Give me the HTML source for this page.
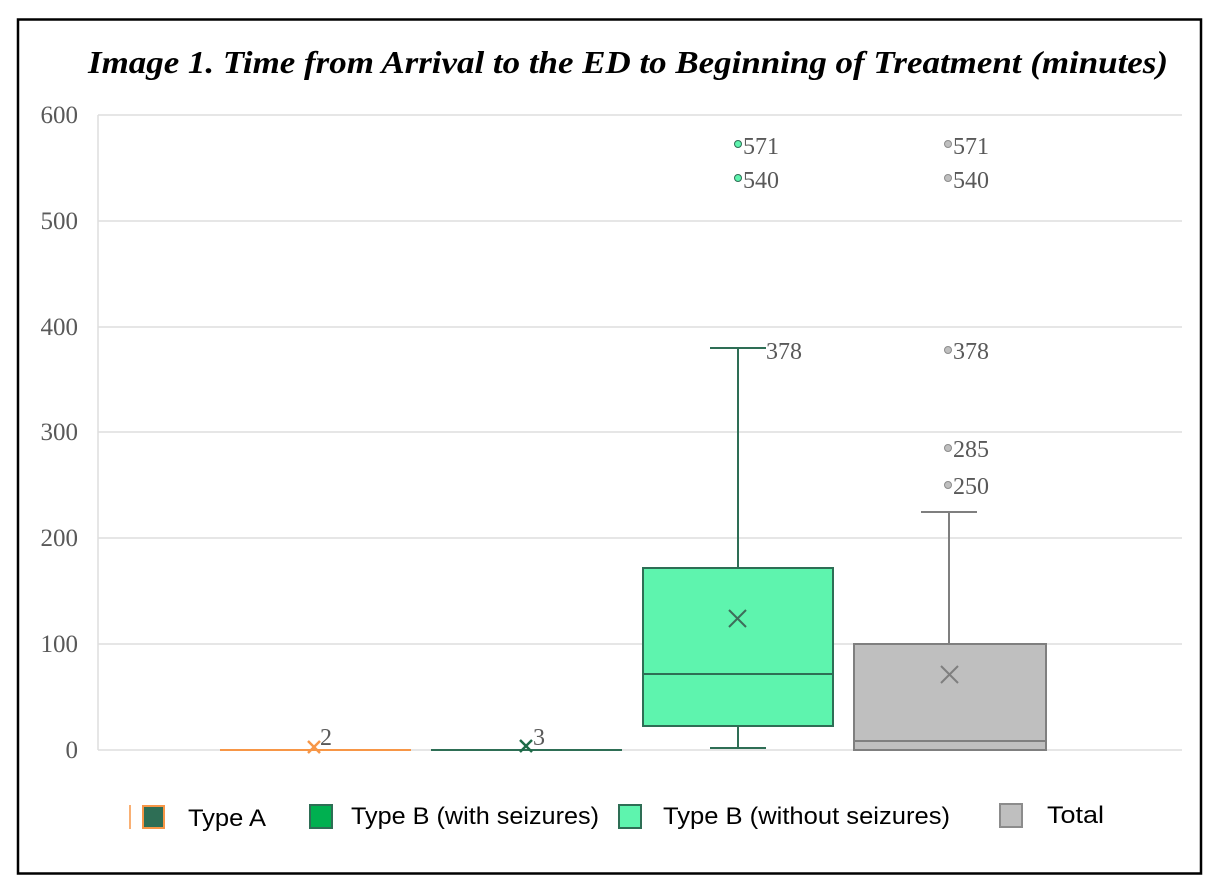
<!DOCTYPE html>
<html><head><meta charset="utf-8"><style>
body{margin:0;background:#fff;}
svg{display:block}
</style></head><body>
<svg width="1222" height="892" viewBox="0 0 1222 892" xmlns="http://www.w3.org/2000/svg">
<rect x="0" y="0" width="1222" height="892" fill="#fff"/>
<rect x="18" y="19.5" width="1183" height="854" fill="#fff" stroke="#000" stroke-width="2.5"/>
<text x="88" y="73" textLength="1080" lengthAdjust="spacingAndGlyphs" font-family="Liberation Serif, serif" font-weight="bold" font-style="italic" font-size="32">Image 1. Time from Arrival to the ED to Beginning of Treatment (minutes)</text>
<g stroke="#dedede" stroke-width="1.5">
<line x1="98" y1="115" x2="1182" y2="115"/>
<line x1="98" y1="221" x2="1182" y2="221"/>
<line x1="98" y1="327" x2="1182" y2="327"/>
<line x1="98" y1="432" x2="1182" y2="432"/>
<line x1="98" y1="538" x2="1182" y2="538"/>
<line x1="98" y1="644" x2="1182" y2="644"/>
<line x1="98" y1="750" x2="1182" y2="750"/>
<line x1="98" y1="115" x2="98" y2="750"/>
</g>
<g font-family="Liberation Serif, serif" font-size="25" fill="#595959" text-anchor="end">
<text x="78" y="123">600</text><text x="78" y="229">500</text><text x="78" y="335">400</text>
<text x="78" y="440">300</text><text x="78" y="546">200</text><text x="78" y="652">100</text><text x="78" y="758">0</text>
</g>
<!-- Type A -->
<line x1="220" y1="750" x2="411" y2="750" stroke="#f79646" stroke-width="2"/>
<g stroke="#f79646" stroke-width="2.5"><line x1="308" y1="741" x2="320" y2="753"/><line x1="320" y1="741" x2="308" y2="753"/></g>
<text x="320" y="745" font-family="Liberation Serif, serif" font-size="24" fill="#595959">2</text>
<!-- Type B with -->
<line x1="431" y1="750" x2="622" y2="750" stroke="#2e6e55" stroke-width="2"/>
<g stroke="#1d6b47" stroke-width="2.5"><line x1="520" y1="740" x2="532" y2="752"/><line x1="532" y1="740" x2="520" y2="752"/></g>
<text x="533" y="745" font-family="Liberation Serif, serif" font-size="24" fill="#595959">3</text>
<!-- Type B without -->
<g stroke="#2e6e55" stroke-width="2">
<line x1="738" y1="348" x2="738" y2="568"/>
<line x1="710" y1="348" x2="766" y2="348"/>
<line x1="738" y1="726" x2="738" y2="748"/>
<line x1="710" y1="748" x2="766" y2="748"/>
<rect x="643" y="568" width="190" height="158" fill="#5ef4ae"/>
<line x1="643" y1="674" x2="833" y2="674"/>
<line x1="729" y1="610" x2="746" y2="627" stroke="#3d6d5a"/>
<line x1="746" y1="610" x2="729" y2="627" stroke="#3d6d5a"/>
</g>
<circle cx="738" cy="144" r="3.5" fill="#5ef4ae" stroke="#2e6e55"/>
<circle cx="738" cy="178" r="3.5" fill="#5ef4ae" stroke="#2e6e55"/>
<!-- Total -->
<g stroke="#7f7f7f" stroke-width="2">
<line x1="949" y1="512" x2="949" y2="644"/>
<line x1="921" y1="512" x2="977" y2="512"/>
<rect x="854" y="644" width="192" height="106" fill="#bfbfbf"/>
<line x1="854" y1="741" x2="1046" y2="741"/>
<line x1="941" y1="666" x2="958" y2="683"/>
<line x1="958" y1="666" x2="941" y2="683"/>
</g>
<g fill="#bfbfbf" stroke="#8c8c8c">
<circle cx="948" cy="144" r="3.5"/><circle cx="948" cy="178" r="3.5"/><circle cx="948" cy="350" r="3.5"/>
<circle cx="948" cy="448" r="3.5"/><circle cx="948" cy="485" r="3.5"/>
</g>
<g font-family="Liberation Serif, serif" font-size="24" fill="#595959">
<text x="743" y="154">571</text><text x="743" y="188">540</text><text x="766" y="359">378</text>
<text x="953" y="154">571</text><text x="953" y="188">540</text><text x="953" y="359">378</text>
<text x="953" y="457">285</text><text x="953" y="494">250</text>
</g>
<!-- legend -->
<line x1="130" y1="805" x2="130" y2="829" stroke="#f79646" stroke-width="1.5"/>
<rect x="143" y="806" width="21" height="22" fill="#2e6e55" stroke="#f79646" stroke-width="2"/>
<rect x="310" y="805" width="22" height="23" fill="#00b050" stroke="#2e6e55" stroke-width="2"/>
<rect x="619" y="805" width="22" height="23" fill="#5ef4ae" stroke="#2e6e55" stroke-width="2"/>
<rect x="1000" y="804" width="22" height="23" fill="#bfbfbf" stroke="#8c8c8c" stroke-width="2"/>
<g font-family="Liberation Sans, sans-serif" font-size="24" fill="#000">
<text x="188" y="826" textLength="78" lengthAdjust="spacingAndGlyphs">Type A</text>
<text x="351" y="824" textLength="248" lengthAdjust="spacingAndGlyphs">Type B (with seizures)</text>
<text x="663" y="824" textLength="287" lengthAdjust="spacingAndGlyphs">Type B (without seizures)</text>
<text x="1047" y="823" textLength="57" lengthAdjust="spacingAndGlyphs">Total</text>
</g>
</svg>
</body></html>
